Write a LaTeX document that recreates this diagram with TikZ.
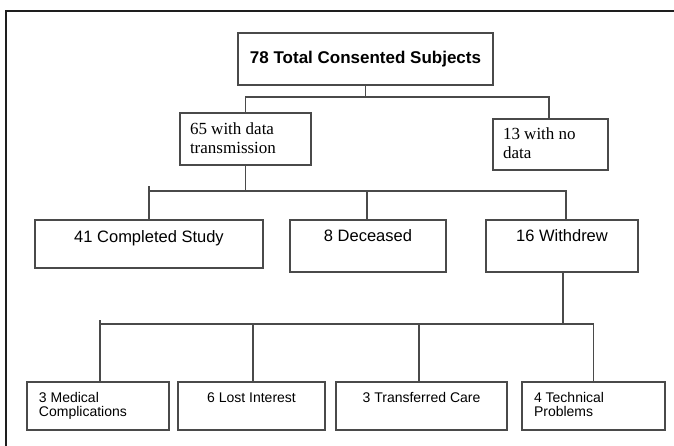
\documentclass[tikz,border=0pt]{standalone}
\usepackage{fontspec}
\newfontfamily\arialf{Liberation Sans}
\newfontfamily\timesf{Liberation Serif}
\definecolor{linegray}{HTML}{4A4A4A}
\definecolor{framecol}{HTML}{1E1E1E}
\newcommand\bxtc[4]{\parbox[c][#2][t]{#1}{\centering\rule{0pt}{#3}#4}}
\newcommand\bxtl[5]{\parbox[c][#2][t]{#1}{\raggedright\setlength\leftskip{#4}\rule{0pt}{#3}#5}}
\begin{document}
\begin{tikzpicture}[x=1pt,y=-1pt,
  bx/.style={draw=linegray, line width=1.3pt, inner sep=0pt, fill=white},
  conn/.style={draw=linegray, line width=1.3pt},
  sansmid/.style={font=\arialf\fontsize{16.5}{18}\selectfont},
  sanssmall/.style={font=\arialf\fontsize{14}{14.5}\selectfont},
  serifmid/.style={font=\timesf\fontsize{17}{19}\selectfont}]
\useasboundingbox (0,0) rectangle (674,446);
% frame
\draw[framecol, line width=2.2pt] (6,446) -- (6,11) -- (674,11);
% level 0
\node[bx, font=\arialf\bfseries\fontsize{17}{19}\selectfont, minimum width=255pt, minimum height=52pt] (top) at (365.5,59) {78 Total Consented Subjects};
% level 1
\node[bx, serifmid] (d65) at (245.5,139) {\bxtl{131pt}{52pt}{21.5pt}{10pt}{65 with data\\transmission}};
\node[bx, serifmid] (d13) at (550.5,144.5) {\bxtl{115pt}{51pt}{20.5pt}{10pt}{13 with no\\data}};
% level 2
\node[bx, sansmid] (c41) at (149,244) {\bxtc{228pt}{48pt}{23pt}{41 Completed Study}};
\node[bx, sansmid] (d8) at (368,246) {\bxtc{156pt}{52pt}{22pt}{8 Deceased}};
\node[bx, sansmid] (w16) at (562,246) {\bxtc{152pt}{52pt}{21pt}{16 Withdrew}};
% level 3
\node[bx, sanssmall] (med) at (98,406) {\bxtl{142pt}{48pt}{20pt}{12pt}{3 Medical\\Complications}};
\node[bx, sanssmall] (lost) at (251.5,406) {\bxtc{147pt}{48pt}{20pt}{6 Lost Interest}};
\node[bx, sanssmall] (trans) at (421.5,406) {\bxtc{171pt}{48pt}{20pt}{3 Transferred Care}};
\node[bx, sanssmall] (tech) at (593.5,406) {\bxtl{143pt}{48pt}{20pt}{12pt}{4 Technical\\Problems}};
% bus levels
\coordinate (bus1) at (0,97);
\coordinate (bus2) at (0,191);
\coordinate (tick2) at (0,186);
\coordinate (bus3) at (0,324);
\coordinate (tick3) at (0,320);
% connectors level 0 -> 1
\draw[conn] (top.south) -- (top.south |- bus1);
\draw[conn] (d65.north) |- ([xshift=-1.5pt]d13.north |- bus1) -- ([xshift=-1.5pt]d13.north);
% level 1 -> 2
\draw[conn] (d65.south) -- (d65.south |- bus2);
\draw[conn] (c41.north) -- (c41.north |- tick2);
\draw[conn] (c41.north |- bus2) -- ([xshift=4pt]w16.north |- bus2) -- ([xshift=4pt]w16.north);
\draw[conn] ([xshift=-1pt]d8.north) -- ([xshift=-1pt]d8.north |- bus2);
% level 2 -> 3
\draw[conn] ([xshift=1pt]w16.south) -- ([xshift=1pt]w16.south |- bus3);
\draw[conn] ([xshift=2pt]med.north) -- ([xshift=2pt]med.north |- tick3);
\draw[conn] ([xshift=2pt]med.north |- bus3) -- (tech.north |- bus3) -- (tech.north);
\draw[conn] ([xshift=1.5pt]lost.north) -- ([xshift=1.5pt]lost.north |- bus3);
\draw[conn] ([xshift=-2.5pt]trans.north) -- ([xshift=-2.5pt]trans.north |- bus3);
\end{tikzpicture}
\end{document}
